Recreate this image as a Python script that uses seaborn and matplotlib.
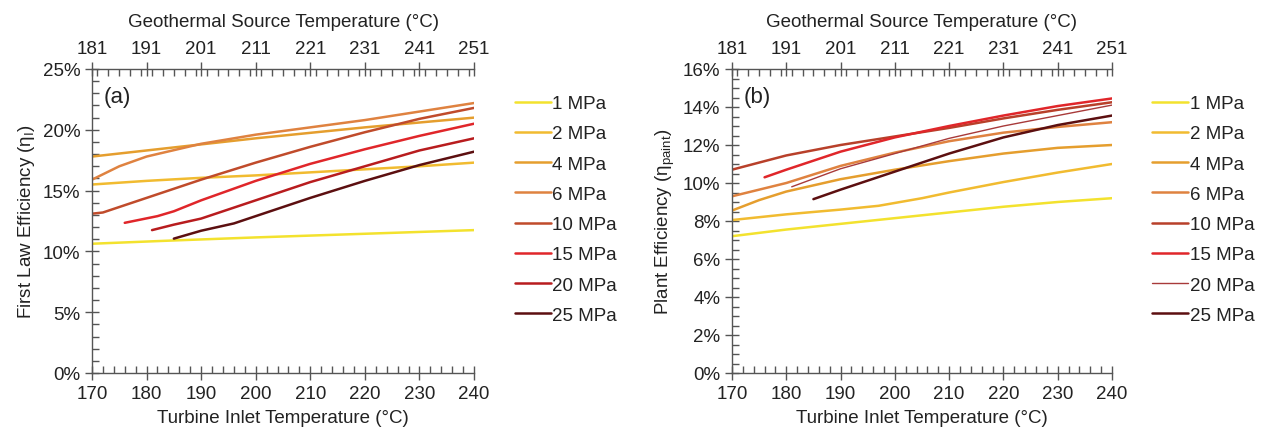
import numpy as np
import pandas as pd
import matplotlib
matplotlib.use("Agg")
import matplotlib.pyplot as plt
import seaborn as sns
from matplotlib.ticker import MultipleLocator, PercentFormatter

# ---------------- data ----------------
pressures = ["1 MPa", "2 MPa", "4 MPa", "6 MPa", "10 MPa", "15 MPa", "20 MPa", "25 MPa"]
colors = ["#f3e22e", "#f1bb30", "#e59e2e", "#df8240", "#c04b2b", "#e0262a", "#b81c1e", "#5c0f10"]
colors_b = ["#f3e22e", "#f1bb30", "#e59e2e", "#df8240", "#b8402a", "#e0262a", "#a83a3a", "#5c0f10"]

# panel (a): First law efficiency (%)
a_1_x = [170, 185, 200, 220, 240]
a_1_y = [10.63, 10.9, 11.15, 11.45, 11.75]
a_2_x = [170, 180, 190, 200, 210, 220, 230, 240]
a_2_y = [15.5, 15.8, 16.05, 16.25, 16.5, 16.75, 17.0, 17.3]
a_4_x = [170, 180, 190, 200, 210, 220, 230, 240]
a_4_y = [17.8, 18.3, 18.8, 19.3, 19.75, 20.2, 20.6, 21.0]
a_6_x = [170, 175, 180, 190, 200, 210, 220, 230, 240]
a_6_y = [15.9, 17.0, 17.8, 18.85, 19.6, 20.2, 20.8, 21.5, 22.2]
a_10_x = [170, 172, 180, 190, 200, 210, 220, 230, 240]
a_10_y = [13.1, 13.2, 14.4, 15.9, 17.3, 18.6, 19.8, 20.9, 21.8]
a_15_x = [176, 182, 185, 190, 200, 210, 220, 230, 240]
a_15_y = [12.35, 12.9, 13.3, 14.2, 15.8, 17.2, 18.4, 19.5, 20.5]
a_20_x = [181, 185, 190, 200, 210, 220, 230, 240]
a_20_y = [11.75, 12.2, 12.7, 14.2, 15.7, 17.0, 18.3, 19.3]
a_25_x = [185, 190, 196, 200, 210, 220, 230, 240]
a_25_y = [11.05, 11.7, 12.3, 12.9, 14.4, 15.8, 17.1, 18.2]

# panel (b): Plant efficiency (%)
b_1_x = [170, 180, 190, 200, 210, 220, 230, 240]
b_1_y = [7.2, 7.55, 7.85, 8.15, 8.45, 8.75, 9.0, 9.2]
b_2_x = [170, 180, 190, 197, 205, 210, 220, 230, 240]
b_2_y = [8.05, 8.35, 8.6, 8.8, 9.2, 9.5, 10.05, 10.55, 11.0]
b_4_x = [170, 175, 180, 190, 200, 210, 220, 230, 240]
b_4_y = [8.55, 9.1, 9.55, 10.2, 10.7, 11.15, 11.55, 11.85, 12.0]
b_6_x = [170, 180, 190, 200, 210, 220, 230, 240]
b_6_y = [9.3, 10.0, 10.9, 11.6, 12.2, 12.65, 12.95, 13.2]
b_10_x = [170, 180, 190, 200, 210, 220, 230, 240]
b_10_y = [10.7, 11.45, 12.0, 12.45, 12.9, 13.4, 13.85, 14.25]
b_15_x = [176, 180, 190, 200, 210, 220, 230, 240]
b_15_y = [10.3, 10.7, 11.65, 12.4, 13.0, 13.55, 14.05, 14.45]
b_20_x = [181, 190, 200, 210, 220, 230, 240]
b_20_y = [9.8, 10.75, 11.55, 12.35, 13.0, 13.55, 14.1]
b_25_x = [185, 190, 200, 210, 220, 230, 240]
b_25_y = [9.15, 9.65, 10.6, 11.55, 12.4, 13.05, 13.55]

a_series = [(a_1_x, a_1_y), (a_2_x, a_2_y), (a_4_x, a_4_y), (a_6_x, a_6_y),
            (a_10_x, a_10_y), (a_15_x, a_15_y), (a_20_x, a_20_y), (a_25_x, a_25_y)]
b_series = [(b_1_x, b_1_y), (b_2_x, b_2_y), (b_4_x, b_4_y), (b_6_x, b_6_y),
            (b_10_x, b_10_y), (b_15_x, b_15_y), (b_20_x, b_20_y), (b_25_x, b_25_y)]

def long_df(series):
    rows = []
    for p, (xs, ys) in zip(pressures, series):
        for x, y in zip(xs, ys):
            rows.append({"T": x, "eff": y, "P": p})
    return pd.DataFrame(rows)

df_a = long_df(a_series)
df_b = long_df(b_series)

# ---------------- style ----------------
sns.set_theme(style="white")
plt.rcParams["font.family"] = ["Liberation Sans", "DejaVu Sans"]
plt.rcParams["mathtext.fontset"] = "custom"
plt.rcParams["mathtext.rm"] = "Liberation Sans"
plt.rcParams["mathtext.it"] = "Liberation Sans:italic"
plt.rcParams["mathtext.default"] = "regular"

FS = 13.5
TXT = "#222222"
SPC = "#555555"

fig = plt.figure(figsize=(12.61, 4.39), dpi=100)
W, H = 1261, 439
ax_a = fig.add_axes([92 / W, 1 - 374 / H, (474 - 92) / W, (374 - 70) / H])
ax_b = fig.add_axes([732 / W, 1 - 374 / H, (1112 - 732) / W, (374 - 70) / H])


def draw(ax, df, pal, lws, ymax, ymaj, ymin, ylabel, tag, leg_x):
    for p, c, lw in zip(pressures, pal, lws):
        sub = df[df["P"] == p]
        sns.lineplot(data=sub, x="T", y="eff", color=c, lw=lw, ax=ax,
                     label=p, sort=False, estimator=None)
    ax.set_xlim(170, 240)
    ax.set_ylim(0, ymax)
    ax.xaxis.set_major_locator(MultipleLocator(10))
    ax.xaxis.set_minor_locator(MultipleLocator(2))
    ax.yaxis.set_major_locator(MultipleLocator(ymaj))
    ax.yaxis.set_minor_locator(MultipleLocator(ymin))
    ax.yaxis.set_major_formatter(PercentFormatter(decimals=0))
    ax.tick_params(which="major", direction="inout", length=10, width=1,
                   color=SPC, labelsize=FS, labelcolor=TXT, bottom=True, left=True)
    ax.tick_params(which="minor", direction="in", length=5, width=1,
                   color=SPC, bottom=True, left=True)
    for s in ["right", "top"]:
        ax.spines[s].set_visible(False)
    for s in ["left", "bottom"]:
        ax.spines[s].set_color(SPC)
        ax.spines[s].set_linewidth(1)
    ax.set_xlabel("Turbine Inlet Temperature (\u00b0C)", fontsize=FS, color=TXT, labelpad=5)
    ax.set_ylabel(ylabel, fontsize=FS, color=TXT, labelpad=4)

    sec = ax.secondary_xaxis("top", functions=(lambda x: x + 11, lambda x: x - 11))
    sec.set_xticks(np.arange(181, 252, 10))
    sec.xaxis.set_minor_locator(MultipleLocator(2))
    sec.tick_params(which="major", direction="inout", length=10, width=1,
                    color=SPC, labelsize=FS, labelcolor=TXT)
    sec.tick_params(which="minor", direction="in", length=5, width=1, color=SPC)
    sec.spines["top"].set_color(SPC)
    sec.spines["top"].set_linewidth(1)
    sec.set_xlabel("Geothermal Source Temperature (\u00b0C)", fontsize=FS, color=TXT, labelpad=10)

    ax.text(0.03, 0.91, tag, transform=ax.transAxes, fontsize=16, color=TXT,
            va="center", ha="left")

    ax.legend(loc="upper left", bbox_to_anchor=(leg_x, 1 - 96 / H),
              bbox_transform=fig.transFigure, frameon=False, fontsize=FS,
              handlelength=1.9, handletextpad=0.1, labelspacing=0.7,
              borderpad=0, borderaxespad=0, labelcolor=TXT)


lws_a = [1.8] * 8
lws_b = [1.8, 1.8, 1.8, 1.8, 1.8, 1.8, 1.0, 1.8]
draw(ax_a, df_a, colors, lws_a, 25, 5, 1,
     r"First Law Efficiency ($\eta_{I}$)", "(a)", 515 / W)
draw(ax_b, df_b, colors_b, lws_b, 16, 2, 0.5,
     r"Plant Efficiency ($\eta_{paint}$)", "(b)", 1152 / W)

fig.savefig("out.png", dpi=100)
